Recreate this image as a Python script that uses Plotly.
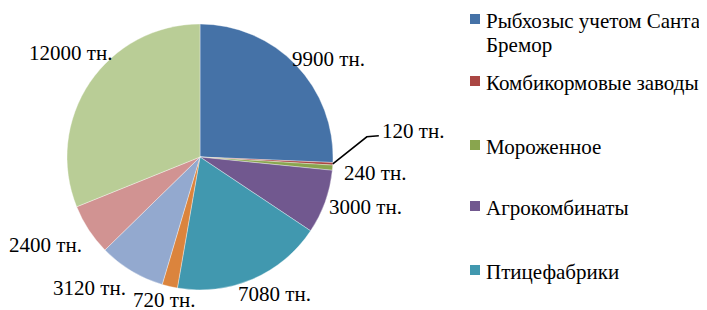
import math
import plotly.graph_objects as go

# Data (tonnes), clockwise from 12 o'clock
values = [9900, 120, 240, 3000, 7080, 720, 3120, 2400, 12000]
colors = ["#4572A7", "#AA4643", "#89A54E", "#71588F", "#4198AF",
          "#DB843D", "#93A9CF", "#D19392", "#B9CD96"]
# Legend entries visible in the reference (the rest are cut off)
legend_names = [["Рыбхозыс учетом Санта", "Бремор"], ["Комбикормовые заводы"],
                ["Мороженное"], ["Агрокомбинаты"], ["Птицефабрики"]]
unit = " тн."

# page body has an 8px margin; work in window pixels and convert to paper
OFFX, OFFY = 8, 8
W, H = 707 - OFFX, 310 - OFFY
FONT = "Liberation Serif"
FS = 21


def px(x):
    return (x - OFFX) / W


def py(y):
    return 1 - (y - OFFY) / H


CX, CY, R = 200, 157, 133
small_idx = 1  # tiny slice labelled with a leader line
GAP = 6
# small pixel nudges of the data-label text (styling, "best fit" like the original)
label_nudge = {0: (2, 5), 2: (5, 4), 4: (5, 0), 5: (3, -3), 6: (-20, 3), 7: (-8, 6), 8: (20, -20)}

fig = go.Figure()
fig.add_trace(go.Pie(
    values=values,
    labels=[str(i) for i in range(len(values))],
    sort=False,
    direction="clockwise",
    rotation=0,
    marker=dict(colors=colors, line=dict(color="rgba(255,255,255,0.6)", width=0.6)),
    textinfo="none",
    domain=dict(x=[px(CX - R), px(CX + R)], y=[py(CY + R), py(CY - R)]),
    showlegend=False,
    hoverinfo="value",
))

annotations = []
shapes = []
font = dict(family=FONT, size=FS, color="black")

# data labels placed outside each slice at its mid-angle
total = sum(values)
cum = 0
for i, v in enumerate(values):
    mid = (cum + v / 2) / total * 2 * math.pi
    cum += v
    s, c = math.sin(mid), math.cos(mid)
    ex, ey = CX + R * s, CY - R * c
    text = f"{v}{unit}"
    if i == small_idx:
        # elbow leader line from the slice edge to the label
        kx, ky = ex + 34, ey - 27
        hx, hy = kx + 12, ky - 1
        shapes.append(dict(type="path", xref="paper", yref="paper",
                           path=f"M {px(ex)},{py(ey)} L {px(kx)},{py(ky)} L {px(hx)},{py(hy)}",
                           line=dict(color="black", width=1.6)))
        annotations.append(dict(xref="paper", yref="paper", x=px(hx + 1), y=py(hy - 5),
                                xanchor="left", yanchor="middle", text=text,
                                showarrow=False, font=font))
        continue
    w = (len(str(v)) * 0.5 + 1.47) * FS
    h = FS
    dx, dy = label_nudge.get(i, (0, 0))
    lx = ex + GAP * s + s * w / 2 + dx
    ly = ey - GAP * c - c * h / 2 + dy
    annotations.append(dict(xref="paper", yref="paper", x=px(lx), y=py(ly),
                            xanchor="center", yanchor="middle", text=text,
                            showarrow=False, font=font))

# Manual legend (only first five entries visible in the reference)
legend_y = [21, 83, 147, 208, 272]
for i, lines in enumerate(legend_names):
    yc = legend_y[i]
    shapes.append(dict(type="rect", xref="paper", yref="paper",
                       x0=px(470), x1=px(480),
                       y0=py(yc + 3), y1=py(yc - 7),
                       fillcolor=colors[i], line=dict(width=0)))
    for k, line in enumerate(lines):
        annotations.append(dict(xref="paper", yref="paper", x=px(484), y=py(yc + 24 * k),
                                xanchor="left", yanchor="middle", align="left",
                                text=line, showarrow=False, font=font))

fig.update_layout(
    width=W, height=H,
    margin=dict(l=0, r=0, t=0, b=0),
    paper_bgcolor="white", plot_bgcolor="white",
    font=dict(family=FONT),
    shapes=shapes, annotations=annotations,
    showlegend=False,
)
fig.write_html("out.html")
